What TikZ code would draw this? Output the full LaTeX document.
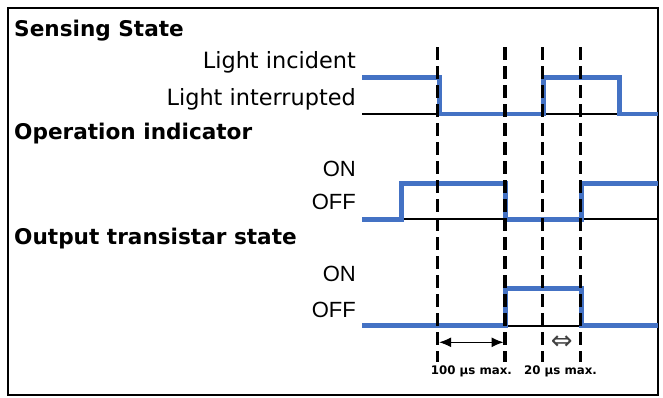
\documentclass[tikz,border=0pt]{standalone}
\usepackage{fontspec}
\setmainfont{DejaVu Sans}
\newfontfamily\onofffont{Liberation Sans}
\usepackage{xcolor}
\usetikzlibrary{positioning,arrows.meta}
\definecolor{sigblue}{HTML}{4472C4}
\tikzset{
  heading/.style={anchor=base west,inner sep=0pt,font=\bfseries\fontsize{21.6}{24}\selectfont},
  level/.style={anchor=base east,inner sep=0pt,font=\fontsize{22.4}{24}\selectfont},
  onoff/.style={anchor=base east,inner sep=0pt,font=\onofffont\fontsize{22}{24}\selectfont},
  signal/.style={sigblue,line width=4.5pt},
  baseline/.style={black,line width=1.8pt},
  marker/.style={black,line width=3.3pt,dash pattern=on 13pt off 6pt},
  timing/.style={font=\bfseries\fontsize{11.8}{13}\selectfont,inner sep=0pt,anchor=base}
}

\begin{document}
\begin{tikzpicture}[x=1pt,y=-1pt]
    \useasboundingbox (0,0) rectangle (663,397);
    \draw[line width=1.5pt] (8,8) rectangle (658,395);
    \node[heading] (sensing) at (14,36) {Sensing State};
    \node[level] (incident) at (356,68) {Light incident};
    \node[level] (interrupted) at (356,105) {Light interrupted};
    \node[heading] (operation) at (14,139) {Operation indicator};
    \node[onoff] (opon) at (356,176) {ON};
    \node[onoff] (opoff) at (356,209) {OFF};
    \node[heading] (output) at (14,244) {Output transistar state};
    \node[onoff] (outon) at (356,281) {ON};
    \node[onoff] (outoff) at (356,317) {OFF};
    \draw[baseline] (362,114) -- (658,114);
    \draw[baseline] (362,219.3) -- (658,219.3);
    \draw[baseline] (362,325.7) -- (658,325.7);
    \draw[signal] (362,77.7) -| (439.5,114) -| (543.3,77.7) -| (619.3,114) -- (658,114);
    \draw[signal] (362,219.3) -| (401.7,183.3) -| (505.7,219.3) -| (581.7,183.3) -- (658,183.3);
    \draw[signal] (362,325.7) -| (505.7,288.7) -| (581.7,325.7) -- (658,325.7);
    \foreach \n/\x in {a/437.7,b/505,c/542.7,d/580.7}{
        \coordinate (top-\n) at (\x,47);
        \coordinate (bot-\n) at (\x,362);
        \coordinate (mid-\n) at (\x,342.3);
        \draw[marker] (top-\n) -- (bot-\n);
    }
    \draw[{Latex[length=12pt,width=10pt]}-{Latex[length=12pt,width=10pt]},line width=1pt,shorten <=1.5pt,shorten >=1.5pt] (mid-a) -- (mid-b);
    \node[inner sep=0pt,font=\fontsize{26}{28}\selectfont,text=black!75] (gap) at (561.7,342.3) {⇔};
    \node[timing] (slow) at (471.4,374) {100 µs max.};
    \node[timing] (fast) at (560.5,374) {20 µs max.};
\end{tikzpicture}
\end{document}
